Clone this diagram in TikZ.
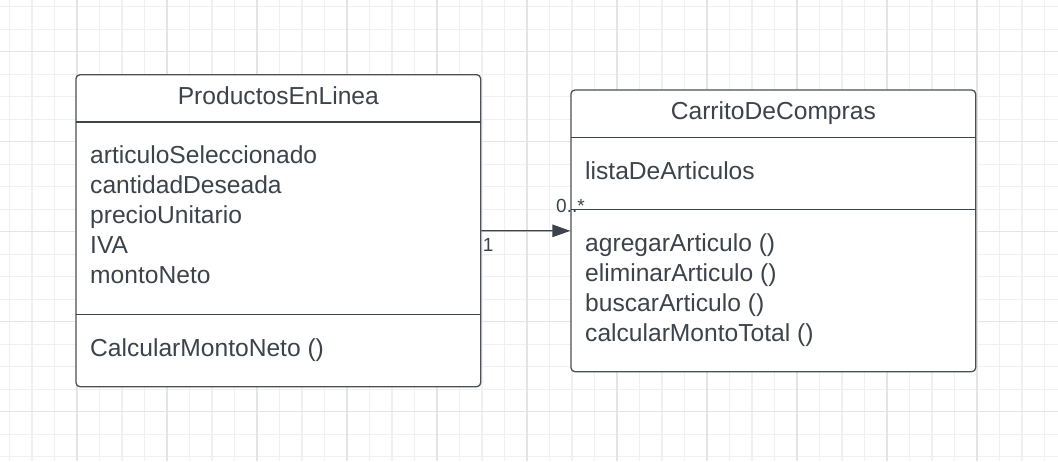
\documentclass[tikz,border=0pt]{standalone}
\usepackage{fontspec}
\setmainfont{Liberation Sans}
\usepackage{xcolor}
\usetikzlibrary{arrows.meta}
\definecolor{inkgray}{HTML}{3D434B}
\definecolor{edgegray}{HTML}{4A5059}
\definecolor{gridminor}{HTML}{F0F0F0}
\definecolor{gridmajor}{HTML}{E4E4E4}
\tikzset{
  classbox/.style={
    draw=edgegray,
    line width=1.3pt,
    rounded corners=4pt,
    fill=white,
    inner sep=0pt,
    minimum width=404.7pt
  },
  divider/.style={draw=inkgray, line width=1.2pt},
  classname/.style={
    anchor=base,
    inner sep=0pt,
    text=inkgray,
    font=\fontsize{24.6pt}{30pt}\selectfont
  },
  member/.style={
    anchor=base west,
    inner sep=0pt,
    text=inkgray,
    font=\fontsize{24.6pt}{30pt}\selectfont
  },
  mult/.style={
    anchor=base west,
    inner sep=0pt,
    text=inkgray,
    font=\fontsize{19pt}{22pt}\selectfont
  },
  assoc/.style={
    draw=inkgray,
    line width=1.3pt,
    -{Triangle[length=18pt, width=12.5pt]}
  }
}

\begin{document}
\begin{tikzpicture}[x=1pt, y=-1pt]
\newcommand\XProd{76}
\newcommand\YProd{74.7}
\newcommand\XCart{571}
\newcommand\YCart{90}
\fill[white] (0,0) rectangle (1058,461);
\useasboundingbox (0,0) rectangle (1058,461);

% grid
\foreach \gx in {0,...,46}
  \draw[gridminor, line width=1.4pt] (9.5+22.5*\gx,0) -- (9.5+22.5*\gx,461);
\foreach \gy in {0,...,20}
  \draw[gridminor, line width=1.4pt] (0,6.7+22.5*\gy) -- (1058,6.7+22.5*\gy);
\foreach \gx in {0,...,10}
  \draw[gridmajor, line width=1.4pt] (77+90*\gx,0) -- (77+90*\gx,461);
\foreach \gy in {0,...,4}
  \draw[gridmajor, line width=1.4pt] (0,51.7+90*\gy) -- (1058,51.7+90*\gy);

% classes
\node[classbox, minimum height=312pt] (prod) at (\XProd+202.35,\YProd+156) {};
\node[classbox, minimum height=281.7pt] (cart) at (\XCart+202.35,\YCart+140.85) {};

\draw[divider] (\XProd,\YProd+47.3) -- (\XProd+404.7,\YProd+47.3);
\draw[divider] (\XProd,\YProd+239.6) -- (\XProd+404.7,\YProd+239.6);
\draw[divider] (\XCart,\YCart+47.3) -- (\XCart+404.7,\YCart+47.3);
\draw[divider] (\XCart,\YCart+119.3) -- (\XCart+404.7,\YCart+119.3);

\node[classname] (prodName) at (\XProd+202.35,\YProd+29.3) {ProductosEnLinea};
\node[classname] (cartName) at (\XCart+202.35,\YCart+29.3) {CarritoDeCompras};

\foreach \t [count=\i from 0] in {articuloSeleccionado, cantidadDeseada, precioUnitario, IVA, montoNeto}
  \node[member] (prodAttr\i) at (\XProd+14,\YProd+88.6+30*\i) {\t};
\node[member] (prodOp0) at (\XProd+14,\YProd+282) {CalcularMontoNeto ()};

\node[member] (cartAttr0) at (\XCart+14,\YCart+89) {listaDeArticulos};
\foreach \t [count=\i from 0] in {agregarArticulo (), eliminarArticulo (), buscarArticulo (), calcularMontoTotal ()}
  \node[member] (cartOp\i) at (\XCart+14,\YCart+161.7+30*\i) {\t};

% association
\draw[assoc] (prod.east) -- (cart.west);
\node[mult] (multProd) at (482.7,251) {1};
\node[mult] (multCart) at (556,212.3) {0..*};
\end{tikzpicture}
\end{document}
